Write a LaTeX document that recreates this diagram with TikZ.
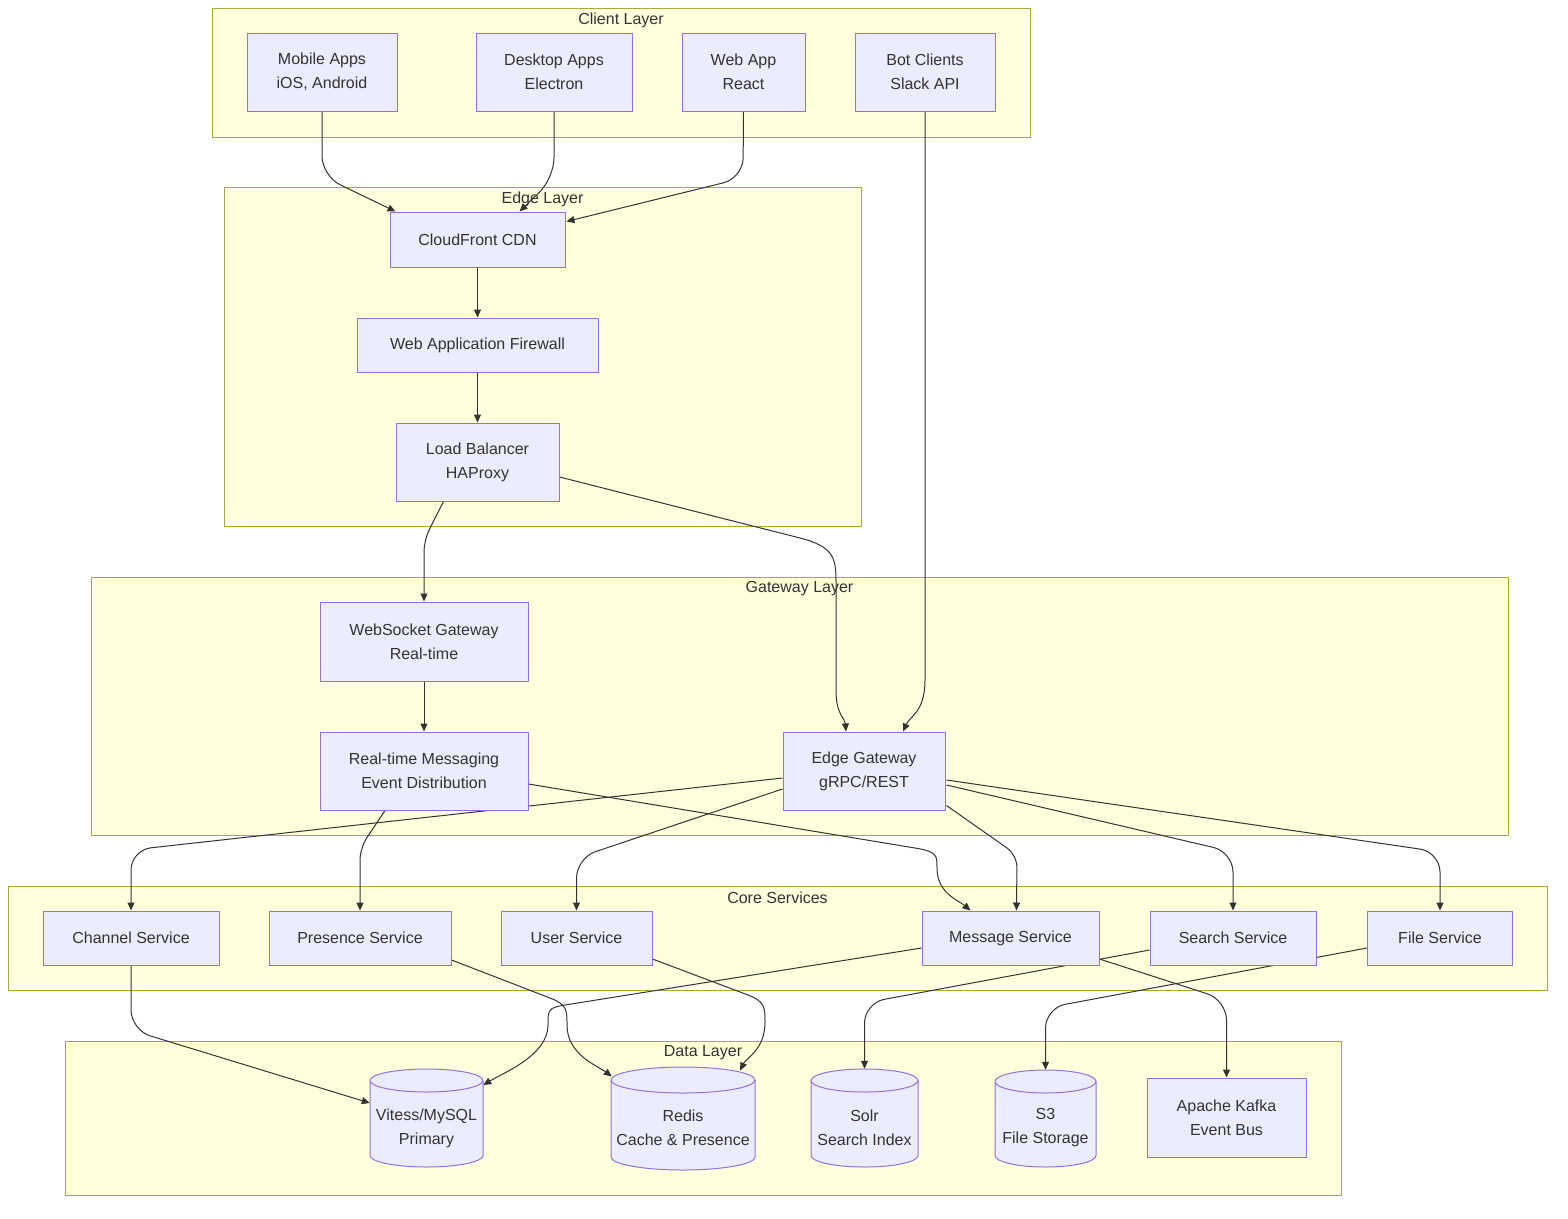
\documentclass[tikz,border=0pt]{standalone}
\usepackage{fontspec}
\setmainfont{Liberation Sans}
\usetikzlibrary{arrows.meta,calc}
\definecolor{nfill}{HTML}{ECECFF}
\definecolor{nline}{HTML}{9370DB}
\definecolor{cfill}{HTML}{FFFFDE}
\definecolor{cline}{HTML}{AAAA33}
\definecolor{ink}{HTML}{333333}
\newcommand{\dbcyl}[5]{% cx, ytop, ybot, halfwidth, ry
  \draw[cylshape] (#1-#4,#2+#5) -- (#1-#4,#3-#5)
    arc[start angle=180,end angle=360,x radius=#4pt,y radius=#5pt]
    -- (#1+#4,#2+#5)
    arc[start angle=0,end angle=180,x radius=#4pt,y radius=#5pt] -- cycle;
  \draw[cylshape,fill=none] (#1-#4,#2+#5)
    arc[start angle=180,end angle=360,x radius=#4pt,y radius=#5pt];
}
\begin{document}
\begin{tikzpicture}[x=1pt,y=-1pt,
  svc/.style={draw=nline, fill=nfill, line width=1pt, align=center, text=ink,
    font=\fontsize{16}{24}\selectfont, inner sep=0pt},
  cyltext/.style={align=center, text=ink, font=\fontsize{16}{24}\selectfont, inner sep=0pt},
  cylbox/.style={draw=none, inner sep=0pt},
  cylshape/.style={draw=nline, fill=nfill, line width=1pt},
  cluster/.style={draw=cline, fill=cfill, line width=1pt},
  ctitle/.style={text=ink, font=\fontsize{16}{19}\selectfont, anchor=center, inner sep=0pt},
  flow/.style={draw=ink, line width=1pt, -{Triangle[length=8pt,width=7pt]}, rounded corners=20pt},
  flowtight/.style={flow, rounded corners=12pt},
  flowcurve/.style={flow, sharp corners}
]
\useasboundingbox (0,0) rectangle (1568,1218);

% clusters
\draw[cluster] (212,8) rectangle (1030,137);
\draw[cluster] (224,187) rectangle (861,526);
\draw[cluster] (91,577) rectangle (1508,835);
\draw[cluster] (8,886) rectangle (1547,990);
\draw[cluster] (65,1041) rectangle (1341,1195);
\node[ctitle] (tclient) at (621,20) {Client Layer};
\node[ctitle] (tedge) at (542.5,199) {Edge Layer};
\node[ctitle] (tgate) at (799.5,589) {Gateway Layer};
\node[ctitle] (tcore) at (777.5,898) {Core Services};
\node[ctitle] (tdata) at (703,1053) {Data Layer};

% node geometry (named placeholders first, so edges can refer to them)
\path
  (322,72) node[svc, minimum width=150pt, minimum height=78pt, draw=none, fill=none] (mobile) {}
  (554,72) node[svc, minimum width=156pt, minimum height=78pt, draw=none, fill=none] (desktop) {}
  (743.5,72) node[svc, minimum width=123pt, minimum height=78pt, draw=none, fill=none] (web) {}
  (925,72) node[svc, minimum width=140pt, minimum height=78pt, draw=none, fill=none] (bot) {}
  (477.5,239.5) node[svc, minimum width=175pt, minimum height=55pt, draw=none, fill=none] (cdn) {}
  (477.5,345) node[svc, minimum width=241pt, minimum height=54pt, draw=none, fill=none] (waf) {}
  (477.5,462) node[svc, minimum width=163pt, minimum height=78pt, draw=none, fill=none] (lb) {}
  (424,641.5) node[svc, minimum width=208pt, minimum height=79pt, draw=none, fill=none] (ws) {}
  (424,771) node[svc, minimum width=208pt, minimum height=78pt, draw=none, fill=none] (rtm) {}
  (864,771) node[svc, minimum width=162pt, minimum height=78pt, draw=none, fill=none] (egw) {}
  (131,938) node[svc, minimum width=176pt, minimum height=54pt, draw=none, fill=none] (channel) {}
  (360,938) node[svc, minimum width=182pt, minimum height=54pt, draw=none, fill=none] (presence) {}
  (576.5,938) node[svc, minimum width=151pt, minimum height=54pt, draw=none, fill=none] (user) {}
  (1010.5,938) node[svc, minimum width=177pt, minimum height=54pt, draw=none, fill=none] (message) {}
  (1233,938) node[svc, minimum width=166pt, minimum height=54pt, draw=none, fill=none] (search) {}
  (1440,938) node[svc, minimum width=145pt, minimum height=54pt, draw=none, fill=none] (file) {}
  (426.5,1118) node[cylbox, minimum width=113pt, minimum height=98pt] (vitess) {}
  (683,1118.5) node[cylbox, minimum width=144pt, minimum height=103pt] (redis) {}
  (864.5,1118) node[cylbox, minimum width=107pt, minimum height=98pt] (solr) {}
  (1045.5,1118.5) node[cylbox, minimum width=101pt, minimum height=97pt] (s3) {}
  (1226.5,1117.5) node[svc, minimum width=159pt, minimum height=79pt, draw=none, fill=none] (kafka) {};

% connectors
\draw[flow] (mobile.south) -- (322,176) -- ($(cdn.north west)+(6,0)$);
\draw[flow] (desktop.south) -- (554,178) -- ($(cdn.north)+(42,0)$);
\draw[flow] (web.south) -- (743,178) -- ($(cdn.north east)+(1,10)$);
\draw[flowcurve] (bot.south) -- (925,680) .. controls (925,712) and (910,716) .. ($(egw.north)+(39,0)$);
\draw[flow] (cdn.south) -- (waf.north);
\draw[flow] (waf.south) -- (lb.north);
\draw[flowtight] ($(lb.south)+(-34,0)$) -- (424,540) -- (ws.north);
\draw[flowcurve] ($(lb.east)+(0,15)$) -- (800,538) .. controls (836,547) and (836,560) .. (836,585)
  -- (836,690) .. controls (836,715) and (845,718) .. ($(egw.north)+(-18,0)$);
\draw[flow] (ws.south) -- (rtm.north);
\draw[flowtight] ($(rtm.south)+(-39,0)$) -- (360,848) -- (presence.north);
\draw[flowcurve] ($(rtm.east)+(0,13)$) -- (915,848) .. controls (937,851.6) and (937,855) .. (937,868)
  .. controls (937,893) and (958,900) .. ($(message.north)+(-40,0)$);
\draw[flow] ($(egw.west)+(0,7)$) -- (131,850) -- (channel.north);
\draw[flow] ($(egw.west)+(0,18)$) -- (576.5,858) -- (user.north);
\draw[flowtight] ($(egw.south east)+(1,-5)$) -- (1017,855) -- ($(message.north)+(6,0)$);
\draw[flow] ($(egw.east)+(1,14)$) -- (1233,852) -- (search.north);
\draw[flow] ($(egw.east)+(1,9)$) -- (1440,852) -- (file.north);
\draw[flow] (channel.south) -- (131,1030) -- ($(vitess.west)+(0,-15)$);
\draw[flowcurve] ($(message.west)+(0,10)$) -- (565,1005) .. controls (548,1007.7) and (548,1010) .. (548,1025)
  .. controls (548,1055) and (505,1072) .. ($(vitess.east)+(0,-33)$);
\draw[flowcurve] ($(presence.east)+(0,22)$) -- (550,998) .. controls (567,1004.5) and (567,1010) .. (567,1025)
  .. controls (567,1055) and (598,1066) .. ($(redis.west)+(1,-42)$);
\draw[flowcurve] ($(user.east)+(0,21)$) -- (748,995) .. controls (765,1001.4) and (765,1008) .. (765,1022)
  .. controls (765,1050) and (746,1058) .. ($(redis.east)+(-15,-48)$);
\draw[flow] ($(search.west)+(0,12)$) -- (864.5,1003) -- (solr.north);
\draw[flow] ($(file.west)+(0,10)$) -- (1045.5,1008) -- (s3.north);
\draw[flow] ($(message.east)+(0,21)$) -- (1226.5,1000) -- (kafka.north);

% visible boxes
\node[svc, minimum width=150pt, minimum height=78pt] (mobileT) at (mobile) {Mobile Apps\\iOS, Android};
\node[svc, minimum width=156pt, minimum height=78pt] (desktopT) at (desktop) {Desktop Apps\\Electron};
\node[svc, minimum width=123pt, minimum height=78pt] (webT) at (web) {Web App\\React};
\node[svc, minimum width=140pt, minimum height=78pt] (botT) at (bot) {Bot Clients\\Slack API};
\node[svc, minimum width=175pt, minimum height=55pt] (cdnT) at (cdn) {CloudFront CDN};
\node[svc, minimum width=241pt, minimum height=54pt] (wafT) at (waf) {Web Application Firewall};
\node[svc, minimum width=163pt, minimum height=78pt] (lbT) at (lb) {Load Balancer\\HAProxy};
\node[svc, minimum width=208pt, minimum height=79pt] (wsT) at (ws) {WebSocket Gateway\\Real-time};
\node[svc, minimum width=208pt, minimum height=78pt] (rtmT) at (rtm) {Real-time Messaging\\Event Distribution};
\node[svc, minimum width=162pt, minimum height=78pt] (egwT) at (egw) {Edge Gateway\\gRPC/REST};
\node[svc, minimum width=176pt, minimum height=54pt] (channelT) at (channel) {Channel Service};
\node[svc, minimum width=182pt, minimum height=54pt] (presenceT) at (presence) {Presence Service};
\node[svc, minimum width=151pt, minimum height=54pt] (userT) at (user) {User Service};
\node[svc, minimum width=177pt, minimum height=54pt] (messageT) at (message) {Message Service};
\node[svc, minimum width=166pt, minimum height=54pt] (searchT) at (search) {Search Service};
\node[svc, minimum width=145pt, minimum height=54pt] (fileT) at (file) {File Service};
\node[svc, minimum width=159pt, minimum height=79pt] (kafkaT) at (kafka) {Apache Kafka\\Event Bus};

\dbcyl{426.5}{1069}{1167}{56.5}{11.5}
\dbcyl{683}{1067}{1170}{72}{13}
\dbcyl{864.5}{1069}{1167}{53.5}{11.5}
\dbcyl{1045.5}{1070}{1167}{50.5}{11.5}
\node[cyltext] (vitessT) at ($(vitess)+(0,10)$) {Vitess/MySQL\\Primary};
\node[cyltext] (redisT) at ($(redis)+(0,9.5)$) {Redis\\Cache \& Presence};
\node[cyltext] (solrT) at ($(solr)+(0,10)$) {Solr\\Search Index};
\node[cyltext] (s3T) at ($(s3)+(0,9.5)$) {S3\\File Storage};
\end{tikzpicture}
\end{document}
